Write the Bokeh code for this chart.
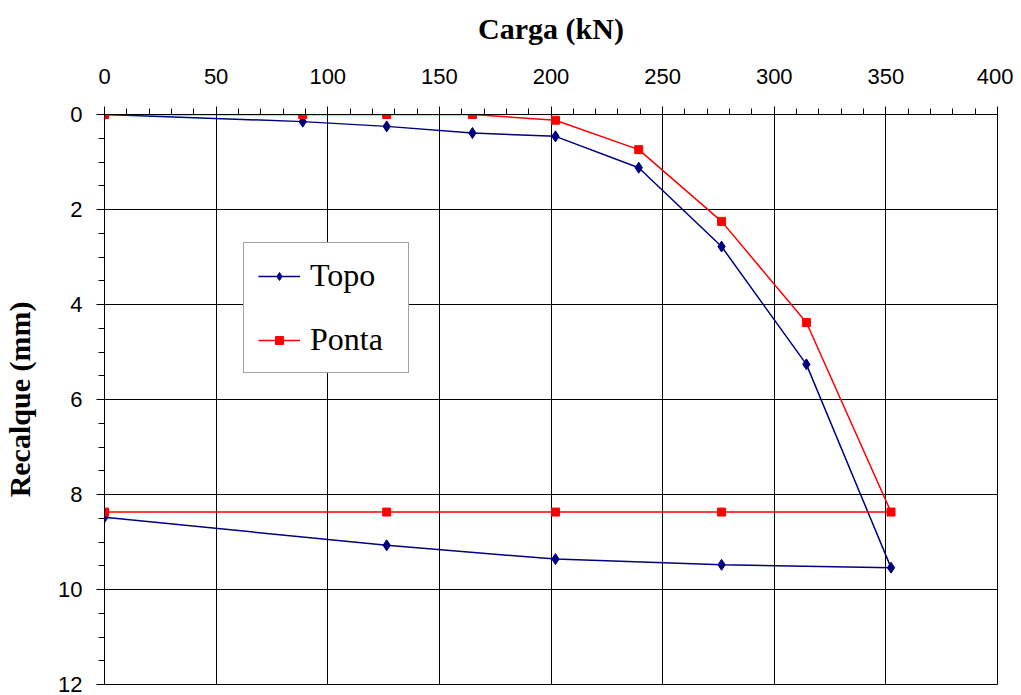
from bokeh.plotting import figure
from bokeh.models import Range1d, FixedTicker, Legend, LegendItem
from bokeh.embed import file_html
from bokeh.resources import INLINE

# Data
topo_carga = [0, 88.8, 126.4, 164.8, 202.0, 239.3, 276.4, 314.4, 352.3, 276.4, 202.0, 126.4, 0]
topo_recalque = [0, 0.15, 0.25, 0.39, 0.46, 1.12, 2.78, 5.26, 9.54, 9.48, 9.36, 9.07, 8.48]
ponta_carga = [0, 88.8, 126.4, 164.8, 202.0, 239.3, 276.4, 314.4, 352.3, 276.4, 202.0, 126.4, 0]
ponta_recalque = [0, 0, 0, 0, 0.12, 0.74, 2.25, 4.38, 8.37, 8.37, 8.37, 8.37, 8.37]
x_ticks = [0, 50, 100, 150, 200, 250, 300, 350, 400]
y_ticks = [0, 2, 4, 6, 8, 10, 12]

p = figure(width=1013, height=695, output_backend="svg", toolbar_location=None,
           x_range=Range1d(0, 400), y_range=Range1d(12, 0),
           x_axis_location="above", min_border_left=104, min_border_top=114,
           min_border_right=16, min_border_bottom=11)
p.background_fill_color = "white"
p.border_fill_color = "white"
p.outline_line_color = "black"
p.outline_line_width = 1

p.xaxis.ticker = FixedTicker(ticks=x_ticks, minor_ticks=list(range(0, 401, 10)))
p.yaxis.ticker = FixedTicker(ticks=y_ticks, minor_ticks=[i * 0.5 for i in range(0, 25)])

for ax in (p.xaxis[0], p.yaxis[0]):
    ax.axis_line_color = "black"
    ax.major_tick_line_color = "black"
    ax.minor_tick_line_color = "black"
    ax.major_tick_in = 0
    ax.major_tick_out = 8
    ax.minor_tick_in = 0
    ax.minor_tick_out = 6
    ax.major_label_text_font = "Liberation Sans"
    ax.major_label_text_font_size = "22px"
    ax.major_label_text_color = "black"
    ax.axis_label_text_font = "Liberation Serif"
    ax.axis_label_text_font_style = "bold"
    ax.axis_label_text_font_size = "30px"
    ax.axis_label_text_color = "black"

p.xaxis.axis_label = "Carga (kN)"
p.yaxis.axis_label = "Recalque (mm)"
p.xaxis.major_label_standoff = 23
p.xaxis.axis_label_standoff = 21
p.yaxis.major_label_standoff = 14
p.yaxis.axis_label_standoff = 19

p.xgrid.grid_line_color = "black"
p.ygrid.grid_line_color = "black"
p.xgrid.grid_line_width = 1
p.ygrid.grid_line_width = 1

l1 = p.line(topo_carga, topo_recalque, line_color="#000080", line_width=1.5)
m1 = p.scatter(topo_carga, topo_recalque, marker="diamond", size=11,
               fill_color="#000080", line_color="#000080")
l2 = p.line(ponta_carga, ponta_recalque, line_color="#FF0000", line_width=1.5)
m2 = p.scatter(ponta_carga, ponta_recalque, marker="square", size=8,
               fill_color="#FF0000", line_color="#FF0000")

legend = Legend(items=[LegendItem(label="Topo", renderers=[l1, m1]),
                       LegendItem(label="Ponta", renderers=[l2, m2])],
                location=(139, 311))
legend.label_text_font = "Liberation Serif"
legend.label_text_font_size = "32px"
legend.label_text_color = "black"
legend.glyph_width = 42
legend.glyph_height = 20
legend.label_standoff = 10
legend.padding = 14
legend.spacing = 27
legend.label_width = 84
legend.border_line_color = "#444444"
legend.border_line_width = 1.5
legend.background_fill_color = "white"
legend.background_fill_alpha = 1
p.add_layout(legend, "center")

open("out.html", "w").write(file_html(p, INLINE))
